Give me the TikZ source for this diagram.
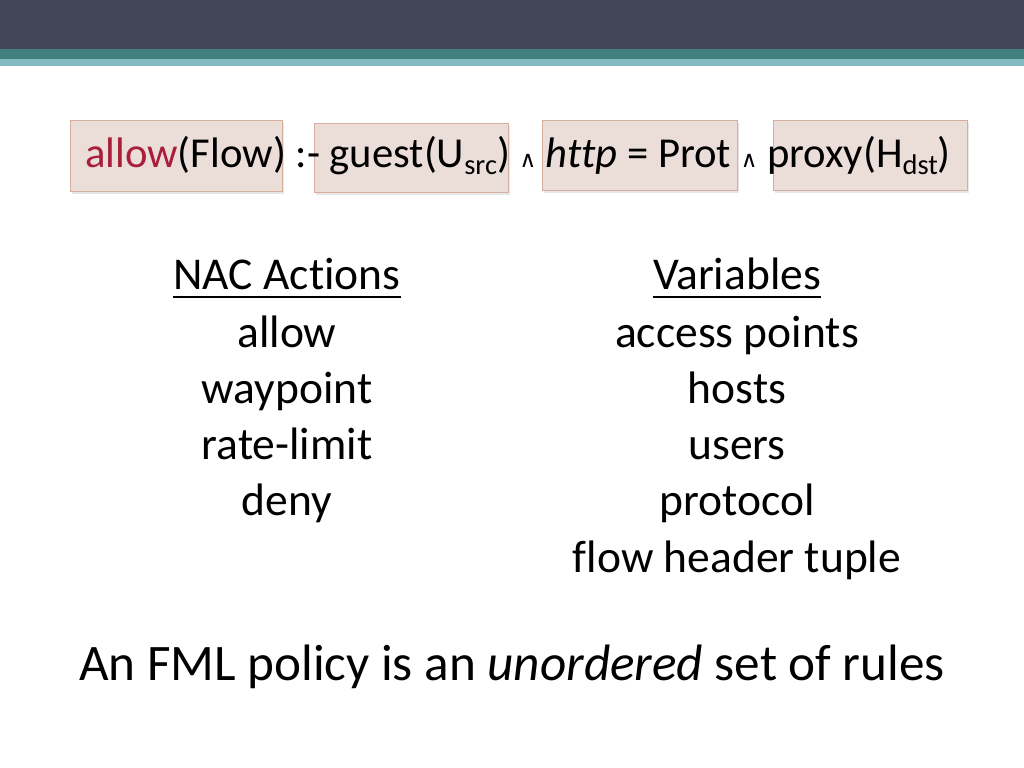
\documentclass[tikz,border=0pt]{standalone}
\usepackage{fontspec}
\setmainfont{Carlito}[Ligatures=NoCommon]
\newfontfamily\wedgefont{DejaVu Sans}
\usetikzlibrary{shadows}

\definecolor{barDark}{HTML}{434558}
\definecolor{barTeal}{HTML}{42807F}
\definecolor{barLight}{HTML}{84BAC1}
\definecolor{termFill}{HTML}{EBDED8}
\definecolor{termLine}{HTML}{D6AE9E}
\definecolor{allowRed}{HTML}{A91E3A}

\newcommand{\lowsub}[1]{\raisebox{-0.32ex}{\fontsize{20}{20}\selectfont #1}}
\newcommand{\andsym}{{\wedgefont\fontsize{16}{16}\selectfont\raisebox{0.05ex}{∧}}}

\tikzset{
  termbox/.style={draw=termLine, fill=termFill, line width=0.6pt,
    drop shadow={opacity=0.2, shadow xshift=1.2pt, shadow yshift=-1.8pt}},
  ruletext/.style={inner sep=0pt, anchor=base, font=\fontsize{30}{36}\selectfont},
  listtext/.style={inner sep=0pt, anchor=base, font=\fontsize{32}{38}\selectfont},
  headline/.style={line width=1.4pt},
}

\begin{document}
\begin{tikzpicture}[x=0.703125pt, y=-0.703125pt]
\useasboundingbox (0,0) rectangle (1024,768);

% title bar
\fill[barDark] (0,0) rectangle (1024,49);
\fill[barTeal] (0,49) rectangle (1024,59);
\fill[barLight] (0,59) rectangle (1024,66);

% boxes behind the rule
\draw[termbox] (70,120) rectangle (282,191);
\draw[termbox] (314,123) rectangle (508,192);
\draw[termbox] (542,120) rectangle (737,190);
\draw[termbox] (773,120) rectangle (967,190);

\node[ruletext] (rule) at (518,168)
  {{\color{allowRed}allow}(Flow) :- guest(U\lowsub{src}) \andsym{} \textit{http} = Prot \andsym{} proxy(H\lowsub{dst})};

% left column
\node[listtext] (nacHead) at (287,290) {NAC Actions};
\node[listtext] (nacAllow) at (287,347) {allow};
\node[listtext] (nacWay) at (287,403) {waypoint};
\node[listtext] (nacRate) at (287,459) {rate-limit};
\node[listtext] (nacDeny) at (287,515) {deny};
\draw[headline] ([yshift=-5pt]nacHead.base west) -- ([yshift=-5pt]nacHead.base east);

% right column
\node[listtext] (varHead) at (737,290) {Variables};
\node[listtext] (varAp) at (737,347) {access points};
\node[listtext] (varHosts) at (737,403) {hosts};
\node[listtext] (varUsers) at (737,459) {users};
\node[listtext] (varProt) at (737,515) {protocol};
\node[listtext] (varTuple) at (737,572) {flow header tuple};
\draw[headline] ([yshift=-5pt]varHead.base west) -- ([yshift=-5pt]varHead.base east);

\node[inner sep=0pt, anchor=base, font=\fontsize{36}{43}\selectfont] (policy) at (512,680)
  {An FML policy is an \textit{unordered} set of rules};
\end{tikzpicture}
\end{document}
